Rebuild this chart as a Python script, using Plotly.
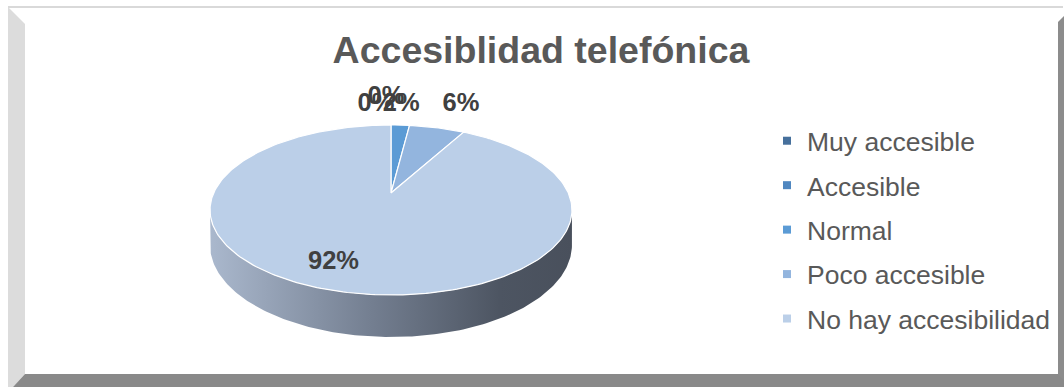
import numpy as np
import plotly.graph_objects as go

# ---- data ----
categories = ["Muy accesible", "Accesible", "Normal", "Poco accesible", "No hay accesibilidad"]
values = [0, 0, 2, 6, 92]
label_texts = [f"{v}%" for v in values]
slice_colors = ["#46709C", "#4F87C0", "#5B9BD5", "#93B5DE", "#BBCFE8"]

# ---- geometry (pixel space, styling only) ----
W, H = 1064, 387
CX, CY = 391.0, 193.0      # projected pie centre
A, B, K = 81.6, 177.3, 0.2  # vertical / horizontal radius, perspective
DEPTH = 33.6


def proj(phi, f=1.0):
    X = f * np.sin(phi)
    Z = f * np.cos(phi)
    den = 1 + K * Z
    return CX + B * X / den, CY - A * Z / den


def bottom(phi):
    x, y = proj(phi)
    return x, y + DEPTH / (1 + K * np.cos(phi))


fig = go.Figure()

# side wall (front, visible part)
phs = np.arccos(-K)
ph = np.linspace(phs, 2 * np.pi - phs, 160)
tx, ty = proj(ph)
bx, by = bottom(ph[::-1])
fig.add_trace(go.Scatter(
    x=np.concatenate([tx, bx, tx[:1]]), y=np.concatenate([ty, by, ty[:1]]),
    mode="lines", fill="toself", line=dict(width=0, color="rgba(0,0,0,0)"),
    fillgradient=dict(type="horizontal",
                      colorscale=[[0, "#AAB8CD"], [0.45, "#737E90"], [0.8, "#4D5562"], [1, "#49505C"]]),
    showlegend=False, hoverinfo="skip"))

# top wedges
total = float(sum(values))
cum = 0.0
mids = []
for cat, v, col in zip(categories, values, slice_colors):
    a0 = cum / total * 2 * np.pi
    a1 = (cum + v) / total * 2 * np.pi
    mids.append((a0 + a1) / 2)
    cum += v
    n = max(2, int(v / total * 300))
    arc = np.linspace(a0, a1, n)
    ax, ay = proj(arc)
    fig.add_trace(go.Scatter(
        x=np.concatenate([[CX], ax, [CX]]), y=np.concatenate([[CY], ay, [CY]]),
        mode="lines", fill="toself", fillcolor=col,
        line=dict(color="white", width=1.2),
        showlegend=False, hoverinfo="skip"))

# data labels
nudges = [(-15, -20), (-5, -27), (1, -20), (24, -23), (-17, -3)]
lx, ly = [], []
for i, (m, v) in enumerate(zip(mids, values)):
    if v / total > 0.5:
        px, py = proj(m, 0.78)
    else:
        px, py = proj(m, 1.0)
    lx.append(px + nudges[i][0])
    ly.append(py + nudges[i][1])
fig.add_trace(go.Scatter(
    x=lx, y=ly, mode="text", text=label_texts,
    textfont=dict(family="Liberation Sans, Arial", size=25.5, color="#404040", weight="bold"),
    textposition="middle center", showlegend=False, hoverinfo="skip"))

# legend entries
for i, (cat, col) in enumerate(zip(categories, slice_colors)):
    fig.add_trace(go.Scatter(
        x=[None], y=[None], mode="markers", name=cat, legendgroup=f"g{i}",
        marker=dict(symbol="square", size=8, color=col)))

# frame (bevelled chart area)
shapes = [
    dict(type="path", path="M 8 6 L 1063 6 L 1063 8 L 8 8 Z", fillcolor="#D9D9D9", line=dict(width=0)),
    dict(type="path", path="M 8 7 L 25 24 L 25 374 L 13 387 L 8 387 Z", fillcolor="#DCDCDC", line=dict(width=0)),
    dict(type="path", path="M 1058 22 L 1064 16 L 1064 387 L 1058 375 Z", fillcolor="#8C8C8C", line=dict(width=0)),
    dict(type="path", path="M 25 374 L 1058 374 L 1064 380 L 1064 387 L 13 387 Z", fillcolor="#898989", line=dict(width=0)),
]
for s in shapes:
    s.update(xref="x", yref="y", layer="below")

fig.update_layout(
    width=W, height=H, autosize=False,
    margin=dict(l=0, r=0, t=0, b=0),
    paper_bgcolor="white", plot_bgcolor="white",
    xaxis=dict(range=[0, W], visible=False, fixedrange=True),
    yaxis=dict(range=[H, 0], visible=False, fixedrange=True),
    shapes=shapes,
    title=dict(text="Accesiblidad telefónica", x=541 / W, xanchor="center",
               y=1 - 50 / H, yanchor="middle", yref="container",
               font=dict(family="Liberation Sans, Arial", size=37.5, color="#595959", weight="bold")),
    legend=dict(x=767 / W, xanchor="left", y=1 - 117 / H, yanchor="top",
                font=dict(family="Liberation Sans, Arial", size=26.5, color="#595959"),
                bgcolor="rgba(0,0,0,0)", tracegroupgap=7, itemwidth=30),
    showlegend=True,
)

fig.write_html("out.html")
